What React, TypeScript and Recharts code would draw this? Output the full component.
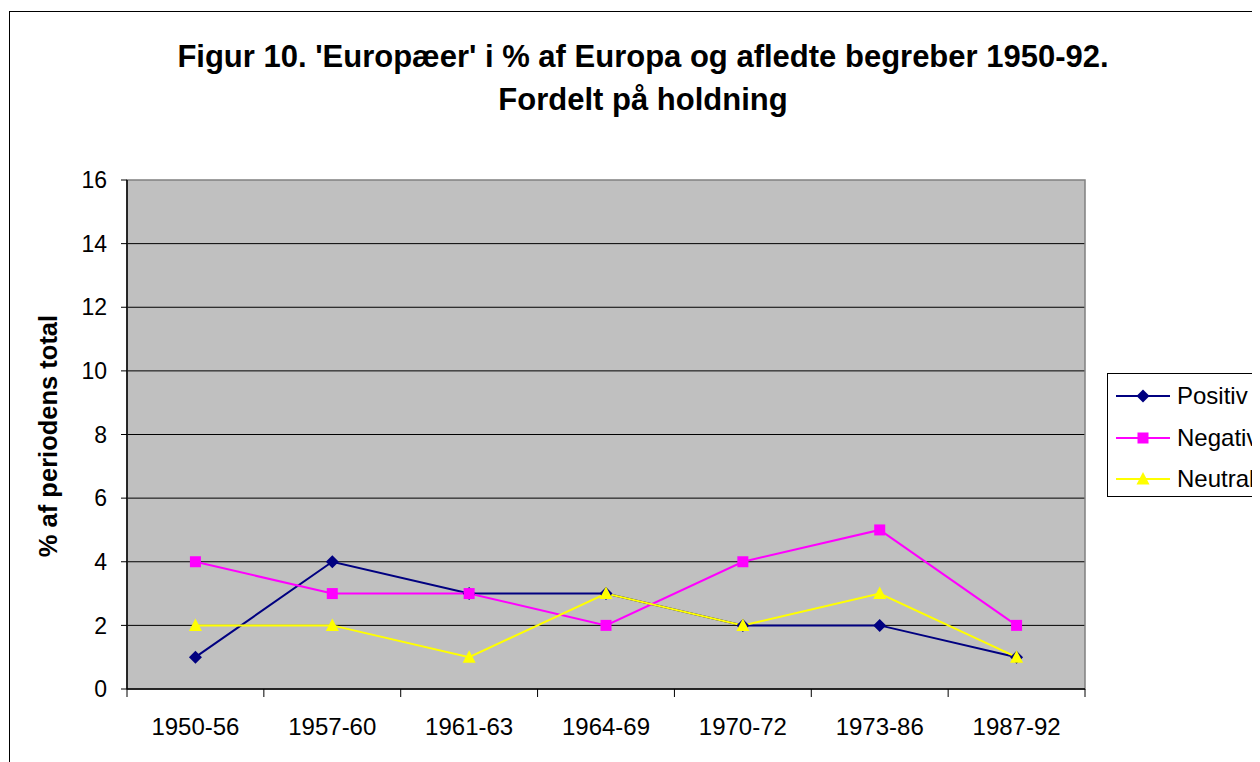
import {LineChart, Line, XAxis, YAxis, CartesianGrid, ReferenceArea} from "recharts";

const periods = ["1950-56", "1957-60", "1961-63", "1964-69", "1970-72", "1973-86", "1987-92"];
const positiv = [1, 4, 3, 3, 2, 2, 1];
const negativ = [4, 3, 3, 2, 4, 5, 2];
const neutral = [2, 2, 1, 3, 2, 3, 1];
const yTicks = [0, 2, 4, 6, 8, 10, 12, 14, 16];
const xBounds = [0, 1, 2, 3, 4, 5, 6, 7];

const data = periods.map((p, i) => ({
  x: i + 0.5,
  period: p,
  positiv: positiv[i],
  negativ: negativ[i],
  neutral: neutral[i],
}));

const FONT = "Arial, 'Liberation Sans', sans-serif";
const W = 1252;
const H = 754;
const margin = {top: 172, right: 175, bottom: 13, left: 0};
const plotW = W - 119 - margin.right;
const band = plotW / periods.length;

const Diamond = ({cx, cy, fill}: any) =>
  cx == null ? null : <path d={`M${cx} ${cy - 6.5}L${cx + 6.5} ${cy}L${cx} ${cy + 6.5}L${cx - 6.5} ${cy}Z`} fill={fill} />;
const Square = ({cx, cy, fill}: any) =>
  cx == null ? null : <rect x={cx - 5.5} y={cy - 5.5} width={11} height={11} fill={fill} />;
const Triangle = ({cx, cy, fill}: any) =>
  cx == null ? null : <path d={`M${cx} ${cy - 7}L${cx + 6.5} ${cy + 5.5}L${cx - 6.5} ${cy + 5.5}Z`} fill={fill} />;

const series = [
  {key: "positiv", name: "Positiv", color: "#000080", Dot: Diamond},
  {key: "negativ", name: "Negativ", color: "#FF00FF", Dot: Square},
  {key: "neutral", name: "Neutral", color: "#FFFF00", Dot: Triangle},
];

const XTick = ({x, y, payload}: any) => {
  const i = payload.value;
  if (i >= periods.length) return null;
  return (
    <text x={x + band / 2} y={y} dy={36} textAnchor="middle" fontSize={24} fontFamily={FONT} fill="#000">
      {periods[i]}
    </text>
  );
};

const LegendBox = () => (
  <div
    style={{
      position: "absolute",
      left: 1099,
      top: 365,
      width: 300,
      height: 124,
      boxSizing: "border-box",
      border: "1px solid #000",
      background: "#fff",
    }}
  >
    {series.map((s, i) => (
      <div
        key={s.key}
        style={{position: "absolute", left: 0, top: 22 + i * 41.5 - 15, height: 30, display: "flex", alignItems: "center"}}
      >
        <svg width={69} height={30}>
          <line x1={8} y1={15} x2={62} y2={15} stroke={s.color} strokeWidth={2} />
          <s.Dot cx={35} cy={15} fill={s.color} />
        </svg>
        <span style={{fontFamily: FONT, fontSize: 24, color: "#000", lineHeight: "30px"}}>{s.name}</span>
      </div>
    ))}
  </div>
);

export default function App() {
  return (
    <div style={{position: "relative", width: W, height: H, overflow: "hidden", fontFamily: FONT}}>
      <div
        style={{
          position: "absolute",
          left: 1,
          top: 3,
          width: 2000,
          height: 2000,
          border: "1px solid #000",
        }}
      />
      <div
        style={{
          position: "absolute",
          left: 0,
          top: 27,
          width: 1270,
          textAlign: "center",
          fontWeight: "bold",
          fontSize: 31,
          lineHeight: "43px",
          color: "#000",
        }}
      >
        Figur 10. 'Europæer' i % af Europa og afledte begreber 1950-92.
        <br />
        Fordelt på holdning
      </div>
      <div
        style={{
          position: "absolute",
          left: 40,
          top: 428,
          transform: "translate(-50%, -50%) rotate(-90deg)",
          whiteSpace: "nowrap",
          fontWeight: "bold",
          fontSize: 25.5,
          color: "#000",
        }}
      >
        % af periodens total
      </div>
      <div style={{position: "absolute", left: 0, top: 0}}>
        <LineChart width={W} height={H} data={data} margin={margin}>
          <CartesianGrid
            vertical={false}
            horizontalValues={[2, 4, 6, 8, 10, 12, 14]}
            stroke="#000"
            strokeOpacity={1}
            fill="#C0C0C0"
            fillOpacity={1}
          />
          <ReferenceArea x1={0} x2={7} y1={0} y2={16} fill="none" stroke="#808080" strokeWidth={1.5} ifOverflow="visible" />
          <XAxis
            dataKey="x"
            type="number"
            domain={[0, 7]}
            ticks={xBounds}
            interval={0}
            height={60}
            tickSize={8}
            tickLine={{stroke: "#000"}}
            axisLine={{stroke: "#000", strokeWidth: 1.5}}
            tick={<XTick />}
            allowDecimals={false}
          />
          <YAxis
            domain={[0, 16]}
            ticks={yTicks}
            interval={0}
            width={119}
            tickSize={6}
            tickMargin={14}
            tickLine={{stroke: "#000"}}
            axisLine={{stroke: "#000", strokeWidth: 1.5}}
            tick={{fontSize: 23, fontFamily: FONT, fill: "#000"}}
          />
          {series.map((s) => (
            <Line
              key={s.key}
              dataKey={s.key}
              name={s.name}
              stroke={s.color}
              strokeWidth={2}
              type="linear"
              dot={<s.Dot fill={s.color} />}
              activeDot={false}
              isAnimationActive={false}
            />
          ))}
        </LineChart>
      </div>
      <LegendBox />
    </div>
  );
}
